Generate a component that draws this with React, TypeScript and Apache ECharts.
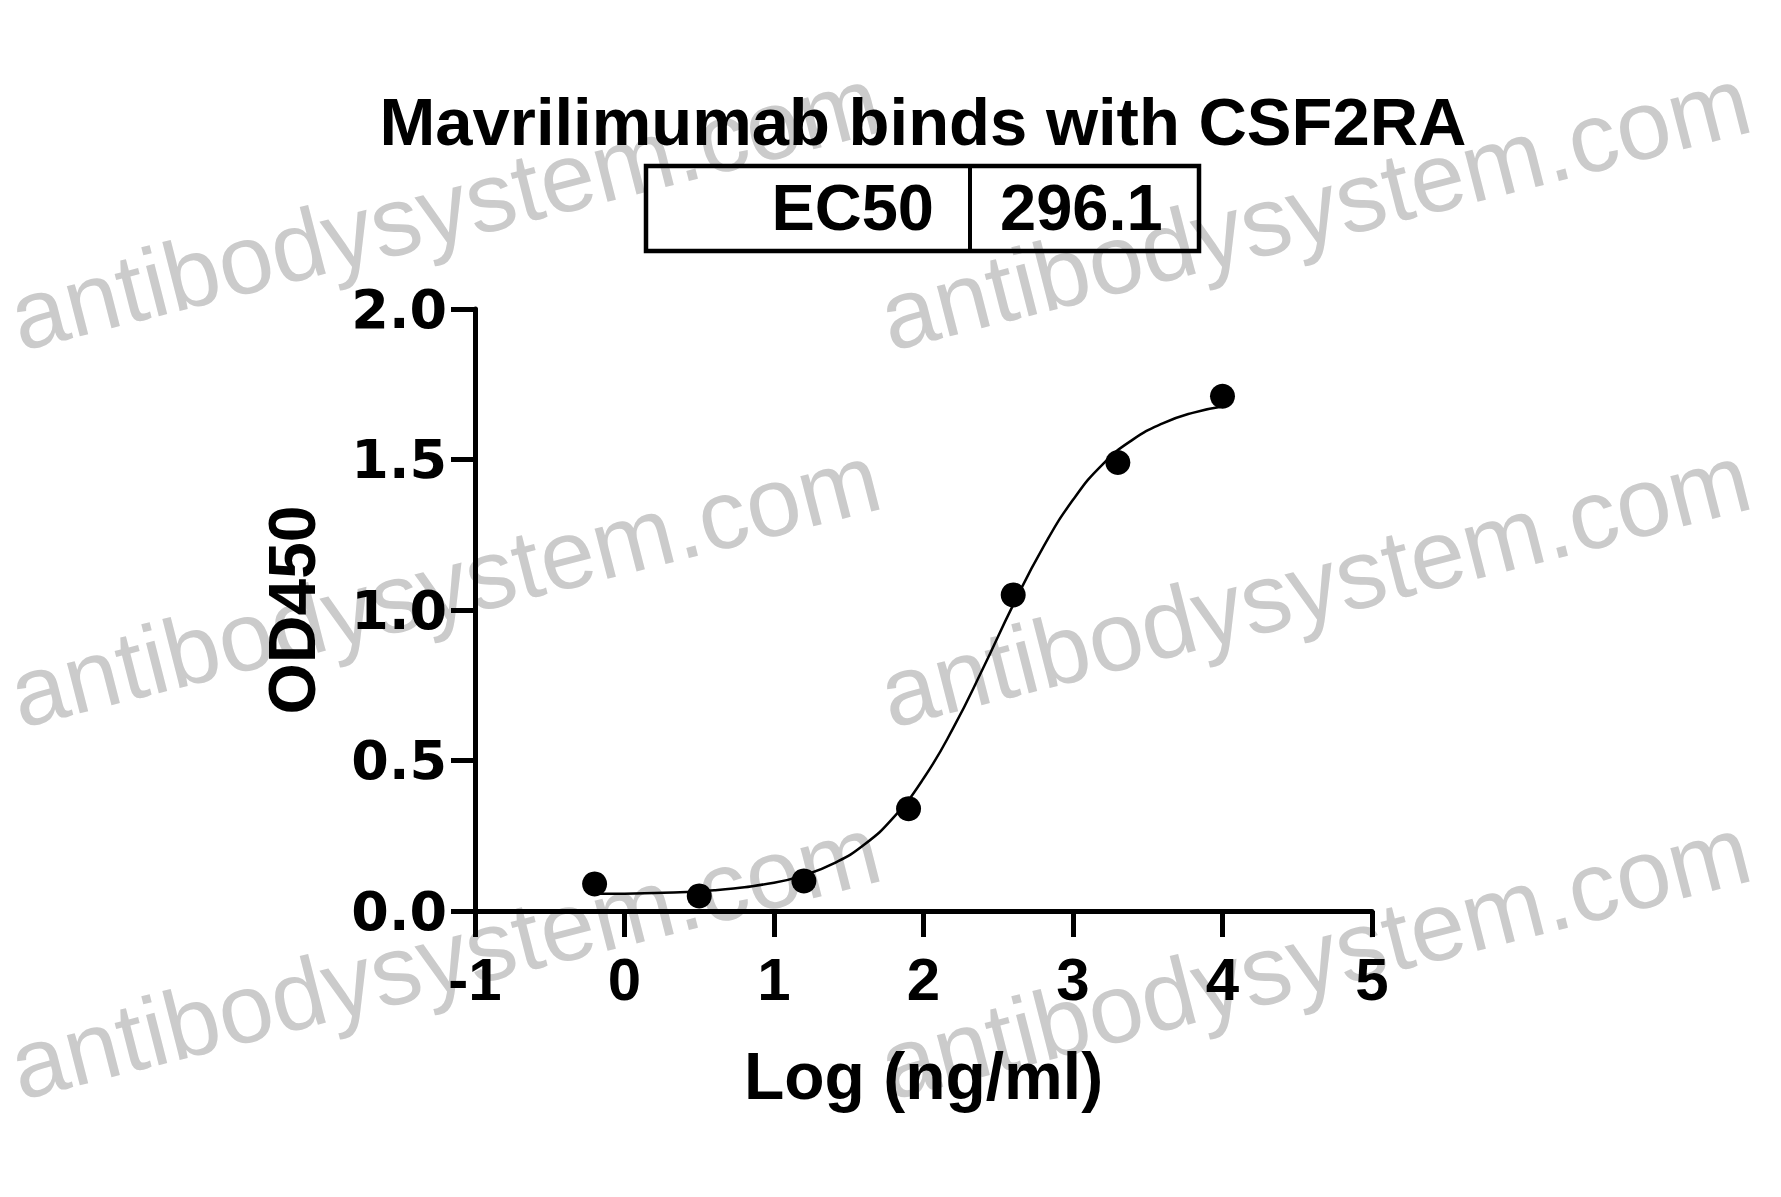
import React, { useEffect, useRef } from "react";
import * as echarts from "echarts";

const TITLE = "Mavrilimumab binds with CSF2RA";
const EC50_LABEL = "EC50";
const EC50_VALUE = "296.1";
const X_NAME = "Log (ng/ml)";
const Y_NAME = "OD450";
const WATERMARK = "antibodysystem.com";

const logConc = [-0.2, 0.5, 1.2, 1.9, 2.6, 3.3, 4.0];
const od450 = [0.09, 0.05, 0.10, 0.34, 1.05, 1.49, 1.71];

const curveX = [-0.2, 0.2, 0.6, 1.0, 1.2, 1.4, 1.6, 1.8, 2.0, 2.2, 2.4, 2.6, 2.8, 3.0, 3.2, 3.4, 3.6, 3.8, 4.0];
const curveY = [0.057, 0.06, 0.069, 0.094, 0.119, 0.158, 0.219, 0.311, 0.44, 0.609, 0.808, 1.017, 1.208, 1.366, 1.485, 1.566, 1.62, 1.655, 1.676];

const xTicks = [-1, 0, 1, 2, 3, 4, 5];
const yTicks = [0, 0.5, 1.0, 1.5, 2.0];

const FONT = "'Liberation Sans', Arial, sans-serif";
const NARROW = "'Liberation Sans Narrow', 'Arial Narrow', 'Liberation Sans', sans-serif";
const WIDE = "'DejaVu Sans', 'Liberation Sans', sans-serif";

export default function App() {
  const ref = useRef<HTMLDivElement>(null);
  useEffect(() => {
    if (!ref.current) return;
    const chart = echarts.init(ref.current, null, { renderer: "svg" });
    const wmStarts = [
      [0, 271], [870, 271],
      [0, 648], [870, 648],
      [0, 1020], [870, 1020],
    ];
    const watermarks = wmStarts.map(([x, y]) => ({
      type: "text",
      x,
      y,
      rotation: 0.25,
      z: 0,
      silent: true,
      style: {
        text: WATERMARK,
        font: `98px ${FONT}`,
        fill: "#cbcbcb",
        align: "left",
        verticalAlign: "top",
      },
    }));
    chart.setOption({
      animation: false,
      backgroundColor: "#ffffff",
      grid: { left: 475, right: 409, top: 309, bottom: 286, containLabel: false },
      xAxis: {
        type: "value",
        min: xTicks[0],
        max: xTicks[xTicks.length - 1],
        interval: 1,
        name: X_NAME,
        nameLocation: "middle",
        nameGap: 132,
        nameTextStyle: { fontFamily: FONT, fontWeight: "bold", fontSize: 66, color: "#000" },
        axisLine: { show: true, onZero: false, lineStyle: { color: "#000", width: 5 } },
        axisTick: { show: true, inside: false, length: 26, lineStyle: { color: "#000", width: 5 } },
        axisLabel: { margin: 38, fontFamily: NARROW, fontWeight: "bold", fontSize: 60, color: "#000" },
        splitLine: { show: false },
      },
      yAxis: {
        type: "value",
        min: yTicks[0],
        max: yTicks[yTicks.length - 1],
        interval: 0.5,
        name: Y_NAME,
        nameLocation: "middle",
        nameGap: 150,
        nameRotate: 90,
        nameTextStyle: { fontFamily: FONT, fontWeight: "bold", fontSize: 66, color: "#000" },
        axisLine: { show: true, onZero: false, lineStyle: { color: "#000", width: 5 } },
        axisTick: { show: true, inside: false, length: 24, lineStyle: { color: "#000", width: 5 } },
        axisLabel: {
          margin: 28,
          fontFamily: WIDE,
          fontWeight: "bold",
          fontSize: 54,
          color: "#000",
          formatter: (v: number) => v.toFixed(1),
        },
        splitLine: { show: false },
      },
      graphic: [
        ...watermarks,
        {
          type: "text",
          x: 923,
          y: 121,
          z: 100,
          style: {
            text: TITLE,
            font: `bold 67px ${FONT}`,
            fill: "#000",
            align: "center",
            verticalAlign: "middle",
          },
        },
        {
          type: "rect",
          z: 100,
          shape: { x: 646, y: 166, width: 553, height: 85 },
          style: { fill: "none", stroke: "#000", lineWidth: 4.5 },
        },
        {
          type: "line",
          z: 100,
          shape: { x1: 970, y1: 166, x2: 970, y2: 251 },
          style: { stroke: "#000", lineWidth: 4 },
        },
        {
          type: "text",
          x: 934,
          y: 207,
          z: 100,
          style: {
            text: EC50_LABEL,
            font: `bold 65px ${FONT}`,
            fill: "#000",
            align: "right",
            verticalAlign: "middle",
          },
        },
        {
          type: "text",
          x: 1000,
          y: 207,
          z: 100,
          style: {
            text: EC50_VALUE,
            font: `bold 65px ${FONT}`,
            fill: "#000",
            align: "left",
            verticalAlign: "middle",
          },
        },
      ],
      series: [
        {
          type: "line",
          data: curveX.map((x, i) => [x, curveY[i]]),
          smooth: true,
          showSymbol: false,
          symbol: "none",
          lineStyle: { color: "#000", width: 2.5 },
          z: 3,
        },
        {
          type: "scatter",
          data: logConc.map((x, i) => [x, od450[i]]),
          symbol: "circle",
          symbolSize: 25,
          itemStyle: { color: "#000", opacity: 1 },
          z: 4,
        },
      ],
    });
    return () => chart.dispose();
  }, []);
  return <div ref={ref} style={{ width: 1781, height: 1197, margin: -8 }} />;
}
